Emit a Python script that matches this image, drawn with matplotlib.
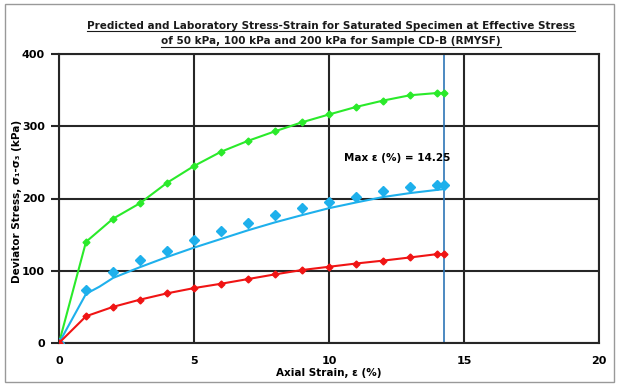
import matplotlib
matplotlib.use("Agg")
import matplotlib.pyplot as plt
from matplotlib.lines import Line2D
from matplotlib.patches import Rectangle

# axial strain (%) at each reading
strain = [0, 1, 2, 3, 4, 5, 6, 7, 8, 9, 10, 11, 12, 13, 14, 14.25]
# laboratory deviator stress (kPa)
lab_200 = [0, 140, 172, 193.5, 221.7, 245, 264.7, 279.8, 293, 305.5, 316.3, 326.7, 335.5, 342.9, 346, 346]
lab_100 = [0, 74, 97.7, 115, 128, 142, 155, 166, 177, 186.7, 194.5, 201.8, 209.7, 215.6, 218.8, 218.8]
lab_50 = [0, 37, 50, 60, 68.7, 76, 82, 88.5, 95, 101, 105.5, 110, 114, 118.4, 123, 123]
# predicted curve for 100 kPa
pred_strain = [0, 1, 1.5, 2, 3, 4, 5, 6, 7, 8, 9, 10, 11, 12, 13, 14.25]
pred_100 = [0, 68, 78, 90, 105, 119, 132, 144, 156, 167, 177, 186.6, 194.5, 202, 207.5, 213]

max_strain = 14.25

W, H = 621, 386
fig = plt.figure(figsize=(W / 100, H / 100), dpi=100)
ax = fig.add_axes([59 / W, (H - 343) / H, 540 / W, 289 / H])

fnt = "DejaVu Sans"
grid_c = "#262626"

ax.plot(strain, lab_200, color="#2AEA2A", lw=1.5, marker="D", ms=3.5, zorder=3)
ax.plot(pred_strain, pred_100, color="#1EB0EC", lw=1.5, zorder=3)
ax.plot(strain, lab_100, color="#1EB0EC", lw=0, marker="D", ms=5, zorder=3)
ax.plot(strain, lab_50, color="#F01414", lw=1.5, marker="D", ms=3.5, zorder=3)
ax.axvline(max_strain, color="#2E75B6", lw=1.2, zorder=2)

ax.set_xlim(0, 20)
ax.set_ylim(0, 400)
ax.set_xticks([0, 5, 10, 15, 20])
ax.set_yticks([0, 100, 200, 300, 400])
ax.grid(True, color=grid_c, lw=1.5)
ax.set_axisbelow(True)
for s in ax.spines.values():
    s.set_color(grid_c)
    s.set_linewidth(1.5)
ax.tick_params(axis="x", length=0, pad=9)
ax.tick_params(axis="y", length=6, width=1.5, color=grid_c, pad=4)
for lab in ax.get_xticklabels() + ax.get_yticklabels():
    lab.set_fontfamily(fnt)
    lab.set_fontweight("bold")
    lab.set_fontsize(8)

ax.set_xlabel("Axial Strain, ε (%)", fontfamily=fnt, fontweight="bold", fontsize=7.5, labelpad=0)
ax.xaxis.set_label_coords(0.5, -0.085)
ax.set_ylabel("Deviator Stress, σ₁-σ₃ (kPa)", fontfamily=fnt, fontweight="bold", fontsize=7.5)
ax.yaxis.set_label_coords(-0.068, 0.49)

ax.text(10.55, 256, f"Max ε (%) = {max_strain}", fontfamily=fnt, fontweight="bold",
        fontsize=7.5, va="center", ha="left")

# two-line underlined title
titles = [
    "Predicted and Laboratory Stress-Strain for Saturated Specimen at Effective Stress",
    "of 50 kPa, 100 kPa and 200 kPa for Sample CD-B (RMYSF)",
]
title_objs = []
for i, line in enumerate(titles):
    y = (H - 29 - 15.5 * i) / H
    t = fig.text(331 / W, y, line, ha="center", va="baseline", fontfamily=fnt,
                 fontweight="bold", fontsize=7.5, color="#1a1a1a")
    title_objs.append(t)

fig.canvas.draw()
r = fig.canvas.get_renderer()
for t in title_objs:
    bb = t.get_window_extent(r)
    _, yb = t.get_transform().transform(t.get_position())
    uy = (yb - 2) / H
    fig.add_artist(Line2D([bb.x0 / W, bb.x1 / W], [uy, uy], color="#1a1a1a", lw=0.8,
                          transform=fig.transFigure))

# outer frame
fig.add_artist(Rectangle((5 / W, 4 / H), 609 / W, 378 / H, transform=fig.transFigure,
                         fill=False, edgecolor="#999999", lw=1))

fig.savefig("out.png", dpi=100)
